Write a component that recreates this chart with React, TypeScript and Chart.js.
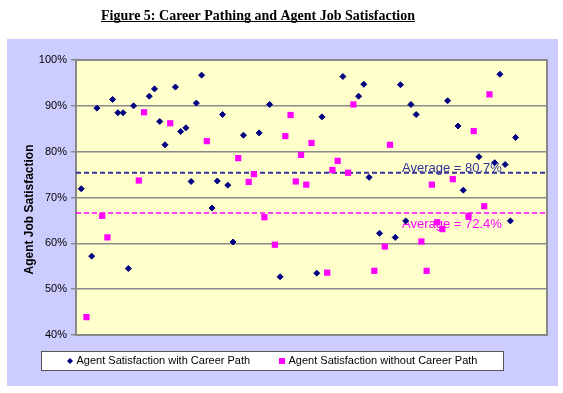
import React, { useEffect, useRef } from "react";
import { Chart, registerables } from "chart.js";

Chart.register(...registerables);

const TITLE = "Figure 5: Career Pathing and Agent Job Satisfaction";
const Y_TITLE = "Agent Job Satisfaction";
const SERIES_WITH = "Agent Satisfaction with Career Path";
const SERIES_WITHOUT = "Agent Satisfaction without Career Path";

const Y_MIN = 40;
const Y_MAX = 100;
const Y_STEP = 10;
const X_MIN = 0;
const X_MAX = 90;

// Agent index (x) and satisfaction (%) — with career path
const withIdx = [1, 3, 4, 7, 8, 9, 10, 11, 14, 15, 16, 17, 19, 20, 21, 22, 23, 24, 26, 27, 28, 29, 30, 32, 35, 37, 39, 46, 47, 51, 54, 55, 56, 58, 61, 62, 63, 64, 65, 71, 73, 74, 77, 80, 81, 82, 83, 84];
const withVals = [71.9, 57.2, 89.5, 91.4, 88.5, 88.5, 54.5, 90.0, 92.1, 93.7, 86.6, 81.5, 94.1, 84.4, 85.2, 73.5, 90.6, 96.7, 67.7, 73.6, 88.1, 72.7, 60.3, 83.6, 84.1, 90.3, 52.7, 53.5, 87.6, 96.4, 92.1, 94.7, 74.4, 62.2, 61.3, 94.6, 64.9, 90.3, 88.1, 91.1, 85.6, 71.6, 78.9, 77.6, 96.9, 77.2, 64.9, 83.1];

// Agent index (x) and satisfaction (%) — without career path
const withoutIdx = [2, 5, 6, 12, 13, 18, 25, 31, 33, 34, 36, 38, 40, 41, 42, 43, 44, 45, 48, 49, 50, 52, 53, 57, 59, 60, 66, 67, 68, 69, 70, 72, 75, 76, 78, 79];
const withoutVals = [43.9, 66.0, 61.3, 73.7, 88.6, 86.2, 82.3, 78.6, 73.4, 75.1, 65.7, 59.7, 83.4, 88.0, 73.5, 79.3, 72.8, 81.9, 53.6, 76.0, 78.0, 75.4, 90.3, 54.0, 59.3, 81.5, 60.4, 54.0, 72.8, 64.6, 63.1, 74.0, 66.0, 84.5, 68.1, 92.5];

// Average reference lines (drawn positions) and their labels
const avgWithLineY = 75.4;
const avgWithoutLineY = 66.6;
const avgWithLabel = "Average = 80.7%";
const avgWithoutLabel = "Average = 72.4%";

const NAVY = "#000080";
const MAGENTA = "#FF00FF";
const AVG_BLUE = "#333399";
const SANS = "Arial, 'Liberation Sans', sans-serif";
const SERIF = "'Times New Roman', 'Liberation Serif', serif";

const decor = {
  id: "decor",
  beforeDraw(chart: any) {
    const { ctx, chartArea: a } = chart;
    ctx.save();
    ctx.fillStyle = "#ffffff";
    ctx.fillRect(0, 0, chart.width, chart.height);
    ctx.fillStyle = "#CCCCFF";
    ctx.fillRect(7, 39, 551, 347);
    ctx.fillStyle = "#FFFFCC";
    ctx.fillRect(a.left, a.top, a.right - a.left, a.bottom - a.top);

    // Title
    ctx.font = `bold 14px ${SERIF}`;
    ctx.fillStyle = "#000";
    ctx.textAlign = "center";
    ctx.textBaseline = "alphabetic";
    const tx = 258;
    ctx.fillText(TITLE, tx, 19.5);
    const tw = ctx.measureText(TITLE).width;
    ctx.strokeStyle = "#000";
    ctx.lineWidth = 1;
    ctx.beginPath();
    ctx.moveTo(tx - tw / 2, 21.5);
    ctx.lineTo(tx + tw / 2, 21.5);
    ctx.stroke();

    // Y axis title
    ctx.save();
    ctx.translate(29.5, 209.5);
    ctx.rotate(-Math.PI / 2);
    ctx.font = `bold 12px ${SANS}`;
    ctx.textAlign = "center";
    ctx.textBaseline = "middle";
    ctx.fillText(Y_TITLE, 0, 0);
    ctx.restore();
    ctx.restore();
  },
  beforeDatasetsDraw(chart: any) {
    const { ctx, chartArea: a, scales } = chart;
    ctx.save();
    ctx.strokeStyle = "#888888";
    ctx.lineWidth = 2;
    ctx.strokeRect(a.left, a.top, a.right - a.left, a.bottom - a.top);
    ctx.font = `13px ${SANS}`;
    ctx.textAlign = "left";
    ctx.textBaseline = "alphabetic";
    ctx.fillStyle = AVG_BLUE;
    ctx.fillText(avgWithLabel, 402, scales.y.getPixelForValue(avgWithLineY) - 0.7);
    ctx.fillStyle = MAGENTA;
    ctx.fillText(avgWithoutLabel, 402, scales.y.getPixelForValue(avgWithoutLineY) + 14.5);
    ctx.restore();
  },
  afterDraw(chart: any) {
    const { ctx } = chart;
    ctx.save();
    // Legend
    ctx.fillStyle = "#ffffff";
    ctx.fillRect(41, 351, 462, 19);
    ctx.strokeStyle = "#555555";
    ctx.lineWidth = 1;
    ctx.strokeRect(41.5, 351.5, 462, 19);
    const cy = 361;
    ctx.fillStyle = NAVY;
    ctx.beginPath();
    ctx.moveTo(70 - 3, cy);
    ctx.lineTo(70, cy - 3);
    ctx.lineTo(70 + 3, cy);
    ctx.lineTo(70, cy + 3);
    ctx.closePath();
    ctx.fill();
    ctx.fillStyle = MAGENTA;
    ctx.fillRect(279, cy - 3, 6, 6);
    ctx.fillStyle = "#000";
    ctx.font = `11px ${SANS}`;
    ctx.textAlign = "left";
    ctx.textBaseline = "middle";
    ctx.fillText(SERIES_WITH, 76.5, cy);
    ctx.fillText(SERIES_WITHOUT, 288.5, cy);
    ctx.restore();
  },
};

export default function App() {
  const ref = useRef<HTMLCanvasElement | null>(null);

  useEffect(() => {
    if (!ref.current) return;
    const withData = withIdx.map((x, i) => ({ x, y: withVals[i] }));
    const withoutData = withoutIdx.map((x, i) => ({ x, y: withoutVals[i] }));
    const chart = new Chart(ref.current, {
      type: "scatter",
      data: {
        datasets: [
          {
            label: SERIES_WITH,
            data: withData,
            pointStyle: "rectRot",
            pointRadius: 3,
            pointBorderWidth: 1,
            backgroundColor: NAVY,
            borderColor: NAVY,
          },
          {
            label: SERIES_WITHOUT,
            data: withoutData,
            pointStyle: "rect",
            pointRadius: 4.4,
            pointBorderWidth: 0,
            backgroundColor: MAGENTA,
            borderColor: MAGENTA,
          },
          {
            type: "line",
            label: "avgWith",
            data: [
              { x: X_MIN, y: avgWithLineY },
              { x: X_MAX, y: avgWithLineY },
            ],
            borderColor: AVG_BLUE,
            borderWidth: 2,
            borderDash: [5, 3],
            pointRadius: 0,
            fill: false,
          },
          {
            type: "line",
            label: "avgWithout",
            data: [
              { x: X_MIN, y: avgWithoutLineY },
              { x: X_MAX, y: avgWithoutLineY },
            ],
            borderColor: MAGENTA,
            borderWidth: 1.5,
            borderDash: [5, 3],
            pointRadius: 0,
            fill: false,
          },
        ] as any,
      },
      options: {
        animation: false,
        responsive: false,
        devicePixelRatio: 1,
        layout: { padding: { left: 0, top: 60, right: 16, bottom: 58 } },
        plugins: {
          legend: { display: false },
          title: { display: false },
          tooltip: { enabled: false },
        },
        scales: {
          x: {
            type: "linear",
            min: X_MIN,
            max: X_MAX,
            display: false,
          },
          y: {
            type: "linear",
            min: Y_MIN,
            max: Y_MAX,
            afterFit: (s: any) => {
              s.width = 76;
            },
            ticks: {
              stepSize: Y_STEP,
              padding: 4,
              color: "#000",
              font: { family: SANS, size: 11 },
              callback: (v: any) => `${v}%`,
            },
            grid: {
              color: "#8a8a8a",
              lineWidth: 1.5,
              tickLength: 5,
              drawTicks: true,
            },
            border: { color: "#888888", width: 2 },
          },
        },
      },
      plugins: [decor],
    });
    return () => chart.destroy();
  }, []);

  return (
    <div style={{ position: "absolute", left: 0, top: 0, width: 563, height: 393 }}>
      <canvas ref={ref} width={563} height={393} style={{ display: "block" }} />
    </div>
  );
}
